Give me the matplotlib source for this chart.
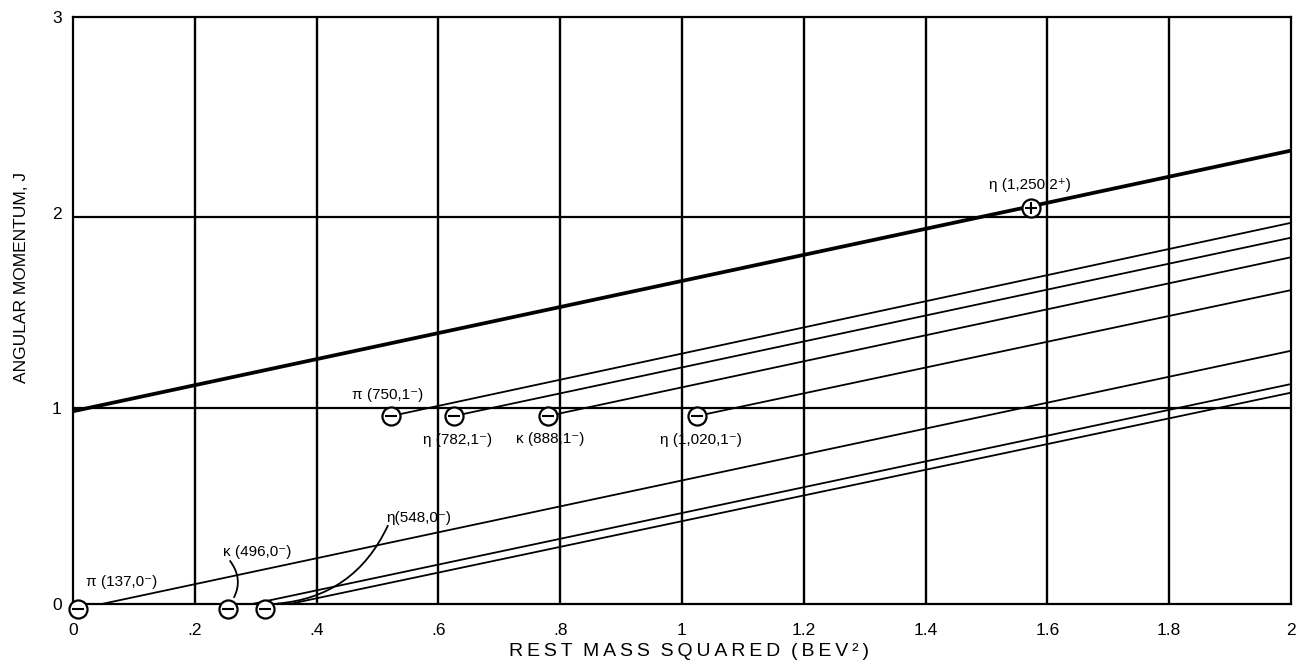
import numpy as np
import matplotlib.pyplot as plt

plt.rcParams['font.family'] = ['Liberation Sans', 'DejaVu Sans']

# particles: label, m^2 (BEV^2), J position, parity sign
labels = ['π (137,0⁻)', 'κ (496,0⁻)', 'η(548,0⁻)', 'π (750,1⁻)',
          'η (782,1⁻)', 'κ (888,1⁻)', 'η (1,020,1⁻)', 'η (1,250,2⁺)']
m2 = [0.008, 0.255, 0.316, 0.523, 0.626, 0.780, 1.025, 1.573]
jpos = [-0.026, -0.026, -0.026, 0.961, 0.961, 0.961, 0.961, 2.025]
signs = ['-', '-', '-', '-', '-', '-', '-', '+']

# label anchor (left, centre) for each particle
lab_x = [0.021, 0.247, 0.515, 0.459, 0.574, 0.727, 0.964, 1.504]
lab_y = [0.114, 0.267, 0.44, 1.068, 0.838, 0.843, 0.840, 2.141]

# thin trajectories: start at particle, value of J at m^2 = 2
traj_start = [0, 1, 2, 3, 4, 5, 6]
traj_end_j = [1.294, 1.124, 1.080, 1.948, 1.872, 1.772, 1.604]

# heavy trajectory through eta(1250)
heavy_x = [0.0, 2.0]
heavy_j = [0.985, 2.317]

j_levels = [1.0, 1.98]
grid_x = [0.2, 0.4, 0.6, 0.8, 1.0, 1.2, 1.4, 1.6, 1.8]
xticks = [0, 0.2, 0.4, 0.6, 0.8, 1.0, 1.2, 1.4, 1.6, 1.8, 2.0]
xtick_lab = ['0', '.2', '.4', '.6', '.8', '1', '1.2', '1.4', '1.6', '1.8', '2']

xlabel_words = ['REST', 'MASS', 'SQUARED', '(BEV²)']
ylabel = 'ANGULAR MOMENTUM, J'

fig = plt.figure(figsize=(12.96, 6.66), dpi=100)
ax = fig.add_axes([0.0563, 0.0931, 0.9398, 0.8814])
ax.set_xlim(0, 2)
ax.set_ylim(0, 3)

for gx in grid_x:
    ax.axvline(gx, color='k', lw=1.7, zorder=1)
for jl in j_levels:
    ax.axhline(jl, color='k', lw=1.6, zorder=1)

ax.plot(heavy_x, heavy_j, color='k', lw=2.7, zorder=2)
for i, jend in zip(traj_start, traj_end_j):
    ax.plot([m2[i], 2.0], [jpos[i], jend], color='k', lw=1.3, zorder=2)

for x, y, s in zip(m2, jpos, signs):
    ax.plot(x, y, 'o', ms=13, mfc='white', mec='k', mew=1.6, zorder=4, clip_on=False)
    ax.plot(x, y, '_' if s == '-' else '+', ms=8, mec='k', mew=1.5, zorder=5, clip_on=False)

for i, txt in enumerate(labels):
    ax.text(lab_x[i], lab_y[i], txt, fontsize=11, ha='left', va='center', zorder=6)

# curved leader lines for the crowded J=0 labels
ax.annotate('', xy=(m2[1] + 0.005, 0.01), xytext=(0.258, 0.22),
            arrowprops=dict(arrowstyle='-', lw=1.3, color='k',
                            connectionstyle='arc3,rad=-0.35', shrinkA=0, shrinkB=4))
ax.annotate('', xy=(m2[2] + 0.01, 0.0), xytext=(0.517, 0.40),
            arrowprops=dict(arrowstyle='-', lw=1.3, color='k',
                            connectionstyle='arc3,rad=-0.3', shrinkA=0, shrinkB=4))

ax.set_xticks(xticks)
ax.set_xticklabels(xtick_lab)
ax.set_yticks([0, 1, 2, 3])
ax.tick_params(length=0, labelsize=12.5)
ax.tick_params(axis='x', pad=14)
ax.tick_params(axis='y', pad=8)
for sp in ax.spines.values():
    sp.set_linewidth(1.6)

# the x title is slightly letter-spaced in the original
spaced = '  '.join('\u2009'.join(w) for w in xlabel_words)
fig.text(0.532, 0.022, spaced, fontsize=14, ha='center', va='center')
fig.text(0.0166, 0.583, ylabel, fontsize=12.5, rotation=90, ha='center', va='center')

fig.savefig('out.png', dpi=100)
